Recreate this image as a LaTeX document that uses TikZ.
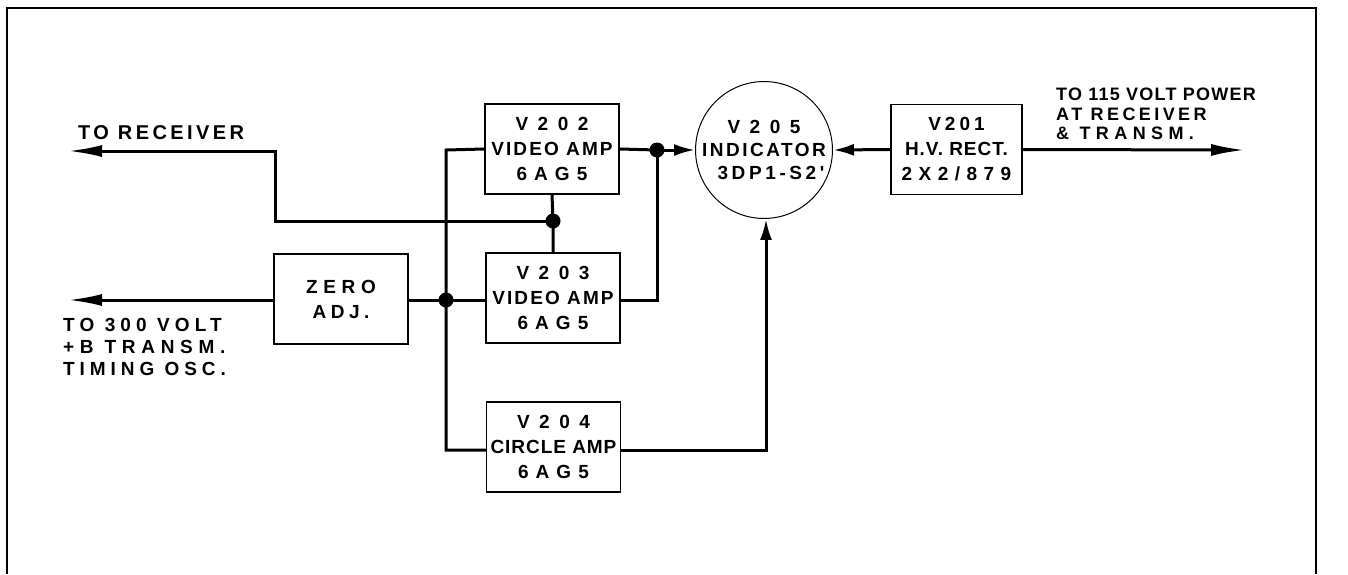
\documentclass[tikz,border=0pt]{standalone}
\usepackage{fontspec}
\newfontfamily\lt{Liberation Sans}
\newcommand\LS[2]{{\addfontfeature{LetterSpace=#1}#2}}
\usetikzlibrary{arrows.meta}
\begin{document}
\begin{tikzpicture}[x=1pt,y=-1pt,
  blk/.style={draw, line width=1.4pt, minimum width=134pt, minimum height=90pt, inner sep=0pt, align=center, font=\lt\bfseries\fontsize{19}{25}\selectfont},
  tube/.style={draw, circle, line width=1pt, minimum size=136pt, inner sep=0pt, align=center, font=\lt\bfseries\fontsize{19}{23}\selectfont},
  wire/.style={line width=3pt},
  jdot/.style={circle, fill, inner sep=0pt, minimum size=15pt},
  bigarrow/.style={wire, -{Latex[length=34pt,width=12pt]}},
  smallarrow/.style={wire, -{Latex[length=21pt,width=12pt]}},
  lbl/.style={font=\lt\bfseries\fontsize{19}{22}\selectfont, align=left, inner sep=0pt}]
\useasboundingbox (0,0) rectangle (1348,574);
% frame
\draw[line width=1.3pt] (7,574) -- (7,8) -- (1316,8) -- (1316,574);

% blocks
\node[blk] (v202) at (552,149) {\LS{50}{V202}\\\LS{11}{VIDEO AMP}\\\LS{37}{6AG5}};
\node[blk] (v203) at (553,298) {\LS{50}{V203}\\\LS{11}{VIDEO AMP}\\\LS{37}{6AG5}};
\node[blk] (v204) at (553.5,447) {\LS{50}{V204}\\\LS{5}{CIRCLE AMP}\\\LS{37}{6AG5}};
\node[blk] (zero) at (341,299) {\LS{30}{ZERO}\\\LS{24}{ADJ.}};
\node[blk, minimum width=131pt] (v201) at (956.5,149.5) {\LS{21}{V201}\\\LS{5}{H.V. RECT.}\\\LS{34}{2X2/879}};
\node[tube] (v205) at (764,150) {\LS{50}{V205}\\\LS{13}{INDICATOR}\\\hspace*{14pt}\LS{19}{3DP1-S2'}};

% junctions and corners
\node[jdot] (d1) at (553,221) {};
\node[jdot] (d2) at (657,150) {};
\node[jdot] (d3) at (446,300) {};
\coordinate (recT) at (68,151);
\coordinate (recA) at (275,151);
\coordinate (recB) at (275,221);
\coordinate (busT) at (446,150);
\coordinate (busB) at (446,450);
\coordinate (o3) at (657,300);
\coordinate (o4) at (766,450);
\coordinate (zT) at (68,300);
\coordinate (pT) at (1245,150);

% wires
\draw[wire] (v202.south) -- (d1.center) -- (v203.north);
\draw[bigarrow] (d1.center) -- (recB) -- (recA) -- (recT);
\draw[wire] (v202.east) -- (d2.center);
\draw[smallarrow] (d2.center) -- (v205.west);
\draw[wire] (d2.center) -- (o3) -- (o3 -| v203.east);
\draw[wire] (v202.west) -- (busT) -- (busB) -- (busB -| v204.west);
\draw[wire] (zero.east |- d3) -- (d3.center) -- (d3 -| v203.west);
\draw[bigarrow] (zero.west |- zT) -- (zT);
\draw[smallarrow] (v204.east |- o4) -- (o4) -- (v205.south -| o4);
\draw[smallarrow] (v201.west) -- (v205.east);
\draw[bigarrow] (v201.east) -- (pT);

% labels
\node[lbl, anchor=west, font=\lt\bfseries\fontsize{20}{22}\selectfont] (lrec) at (78,133) {\LS{17}{TO RECEIVER}};
\node[lbl, anchor=north west] (lb) at (63,318) {\LS{27}{TO 300 VOLT}\\\LS{30}{+B TRANSM.}\\\LS{26}{TIMING OSC.}};
\node[lbl, anchor=north west, font=\lt\bfseries\fontsize{18}{19.5}\selectfont] (lp) at (1056,88) {\LS{7}{TO 115 VOLT POWER}\\\LS{19}{AT RECEIVER}\\\LS{30}{\& TRANSM.}};
\end{tikzpicture}
\end{document}
